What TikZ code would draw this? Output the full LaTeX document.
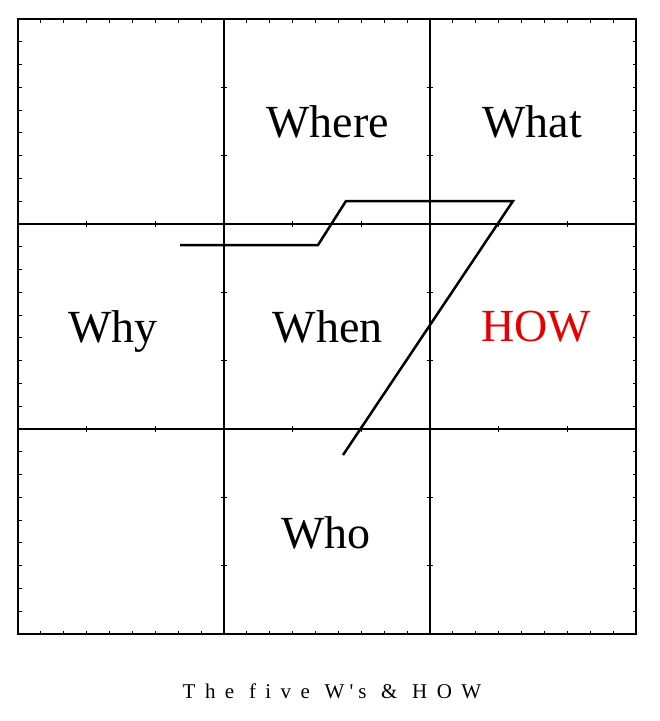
\documentclass[tikz,border=0pt]{standalone}
\usepackage{fontspec}
\setmainfont{Liberation Serif}
\begin{document}
\begin{tikzpicture}[x=1pt,y=-1pt,
  gridline/.style={line width=1.8pt,black},
  tickline/.style={line width=0.9pt,black},
  hook/.style={line width=2.5pt,black,line join=miter},
  label/.style={anchor=base,inner sep=0pt,font=\fontsize{46}{50}\selectfont},
  caption/.style={anchor=base,inner sep=0pt,font=\fontsize{21}{24}\selectfont\addfontfeature{LetterSpace=45}}]
\useasboundingbox[fill=white] (0,0) rectangle (660,721);
% grid
\draw[gridline] (18,19) rectangle (636,634);
\draw[gridline] (224,19) -- (224,634);
\draw[gridline] (430,19) -- (430,634);
\draw[gridline] (18,224) -- (636,224);
\draw[gridline] (18,429) -- (636,429);
% outer ticks (every ninth of a cell)
\foreach \i in {1,...,26}{
  \pgfmathsetmacro{\tx}{18+\i*618/27}
  \pgfmathsetmacro{\ty}{19+\i*615/27}
  \draw[tickline] (\tx,19) -- (\tx,22.5);
  \draw[tickline] (\tx,634) -- (\tx,630.5);
  \draw[tickline] (18,\ty) -- (21.5,\ty);
  \draw[tickline] (636,\ty) -- (632.5,\ty);
}
% inner ticks (every third of a cell)
\foreach \i in {1,2,4,5,7,8}{
  \pgfmathsetmacro{\tx}{18+\i*618/9}
  \pgfmathsetmacro{\ty}{19+\i*615/9}
  \draw[tickline] (\tx,221) -- (\tx,227);
  \draw[tickline] (\tx,426) -- (\tx,432);
  \draw[tickline] (221,\ty) -- (227,\ty);
  \draw[tickline] (427,\ty) -- (433,\ty);
}
% the hook line
\coordinate (p1) at (180,245);
\coordinate (p2) at (318,245);
\coordinate (p3) at (346,201);
\coordinate (p4) at (513,201);
\coordinate (p5) at (343,455);
\draw[hook] (p1) -- (p2) -- (p3) -- (p4) -- (p5);
% labels
\node[label] (where) at (327.5,137) {Where};
\node[label] (what) at (532,137) {What};
\node[label] (why) at (113,342) {Why};
\node[label] (when) at (327.5,342) {When};
\node[label,text={rgb,255:red,230;green,0;blue,0}] (how) at (536,341) {HOW};
\node[label] (who) at (326,548) {Who};
\node[caption] (cap) at (332,698) {The five W\hspace{5pt}\textquotesingle\hspace{5pt}s \& HOW};
\end{tikzpicture}
\end{document}
